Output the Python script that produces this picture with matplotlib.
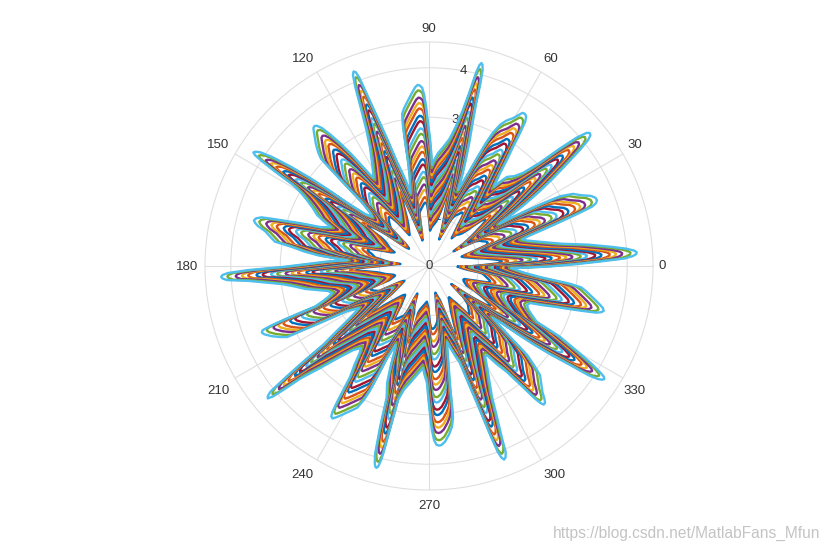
import numpy as np
import matplotlib
matplotlib.use("Agg")
import matplotlib.pyplot as plt

plt.rcParams['font.family'] = ['Liberation Sans', 'DejaVu Sans']

theta_deg = [
    -1.4, -0.8, -0.2, 0.7, 1.5, 2.2, 2.8, 3.3, 3.8, 4.3, 5.0, 6.0, 7.6, 9.5, 12.0, 14.6, 16.0,
    16.9, 17.9, 18.7, 19.4, 20.0, 20.6, 21.4, 22.3, 23.4, 25.0, 26.6, 28.0, 28.8, 29.6, 30.3, 31.0,
    31.9, 32.8, 33.9, 35.2, 36.5, 37.6, 38.4, 39.0, 39.6, 40.2, 41.0, 41.9, 43.0, 44.7, 46.5, 48.8, 50.0, 50.7,
    51.6, 52.6, 53.7, 54.8, 55.6, 56.3, 57.0, 57.8, 58.6, 60.4, 62.0, 63.2, 64.4, 65.2, 66.0, 67.0, 68.1, 69.1,
    70.0, 71.0, 72.0, 73.0, 73.8, 74.3, 74.7, 75.1, 75.5, 75.9, 76.3, 76.9, 77.8, 79.2, 80.8, 83.0, 85.5, 87.5, 88.3,
    88.9, 89.6, 90.4, 91.0, 91.6, 92.2, 93.0, 93.6, 94.4, 95.4, 97.2, 99.0, 100.0, 100.5, 100.9, 101.3, 102.2, 104.3,
    105.3, 106.2, 107.1, 108.2, 109.2, 109.9, 110.3, 110.7, 111.2, 111.7, 112.4, 113.4, 114.6, 116.4, 118.5, 120.6, 122.2,
    122.9, 123.7, 124.8, 125.9, 126.9, 127.8, 128.6, 129.3, 130.0, 130.7, 131.6, 132.8, 134.3, 135.2, 135.6, 136.0, 136.4, 137.8, 139.2,
    141.0, 142.3, 142.9, 143.5, 144.3, 145.2, 146.0, 146.6, 147.1, 147.5, 147.9, 148.4, 149.2, 150.2, 151.6, 153.5, 155.5, 157.0, 158.3,
    159.3, 160.3, 161.6, 162.5, 163.2, 163.8, 164.6, 165.4, 166.0, 166.8, 168.0, 169.5, 171.0, 172.1, 173.3, 174.5, 175.2, 176.0,
    176.9, 177.7, 178.5, 179.5, 180.4, 181.3, 182.0, 182.5, 183.0, 183.5, 184.0, 184.7, 185.8, 187.0, 188.6, 190.5, 193.9, 195.6,
    197.0, 198.5, 199.6, 200.0, 200.3, 200.7, 201.1, 201.7, 202.5, 204.0, 205.5, 206.6, 207.0, 207.4, 207.9, 208.8, 211.0,
    212.5, 214.0, 215.5, 216.7, 217.3, 217.9, 218.4, 218.9, 219.4, 219.9, 220.4, 221.2, 222.2, 223.2, 225.6, 228.0, 230.3,
    231.5, 233.0, 234.6, 235.4, 236.0, 236.5, 237.0, 237.7, 238.5, 239.8, 241.5, 243.1, 244.0, 244.6, 245.0, 245.5, 247.0,
    248.0, 249.0, 250.3, 251.3, 252.2, 253.1, 254.0, 254.6, 255.0, 255.4, 255.8, 256.2, 256.5, 257.0, 258.5, 260.8, 263.5, 266.6,
    267.5, 269.0, 270.0, 271.0, 271.7, 272.4, 273.2, 274.0, 275.2, 276.8, 278.1, 279.0, 279.4, 279.8, 280.5, 281.5, 282.5, 283.4,
    285.0, 286.5, 287.7, 288.6, 289.4, 289.9, 290.3, 290.7, 291.2, 291.8, 292.4, 293.0, 294.2, 295.7, 297.5, 299.9, 301.8,
    303.0, 304.6, 306.3, 307.8, 308.6, 309.1, 309.6, 310.3, 311.0, 312.0, 312.8, 314.0, 315.5, 316.7, 317.8, 318.4, 319.0, 319.9, 320.9,
    321.8, 322.5, 323.2, 324.0, 324.9, 325.6, 326.2, 326.7, 327.2, 327.7, 328.2, 328.9, 329.8, 331.6, 332.6, 334.5, 336.5, 338.3,
    339.9, 341.0, 342.2, 343.0, 343.7, 344.4, 345.0, 345.6, 346.4, 347.2, 348.5, 349.8, 351.0, 352.0, 352.8, 353.5, 354.3, 355.8, 357.5,
]
radius = [
    1.67, 2.05, 2.45, 2.95, 3.45, 3.95, 4.12, 4.19, 4.20, 4.15, 4.00, 3.70, 3.25, 2.72, 2.33, 2.04, 1.95,
    2.13, 2.50, 2.85, 3.20, 3.50, 3.60, 3.64, 3.63, 3.56, 3.38, 3.25, 3.00, 2.63, 2.25, 1.95, 1.65,
    1.95, 2.30, 2.65, 3.05, 3.45, 3.85, 4.10, 4.19, 4.21, 4.16, 3.95, 3.55, 3.05, 2.67, 2.50, 2.39, 2.20, 2.06,
    2.20, 2.36, 2.65, 2.94, 3.25, 3.50, 3.60, 3.63, 3.62, 3.43, 3.32, 3.20, 2.98, 2.72, 2.40, 2.05, 1.80, 1.64,
    2.00, 2.30, 2.65, 3.00, 3.40, 3.85, 4.10, 4.20, 4.23, 4.18, 4.03, 3.60, 3.20, 2.85, 2.60, 2.43, 2.28, 2.12, 2.04,
    2.30, 2.60, 2.88, 3.20, 3.45, 3.60, 3.65, 3.66, 3.62, 3.53, 3.37, 3.22, 3.12, 2.90, 2.55, 2.18, 1.85, 1.52,
    1.80, 2.00, 2.20, 2.70, 3.20, 3.70, 4.05, 4.18, 4.21, 4.15, 3.90, 3.45, 3.05, 2.68, 2.42, 2.22, 2.10,
    2.20, 2.40, 2.75, 3.06, 3.32, 3.52, 3.62, 3.65, 3.63, 3.56, 3.47, 3.36, 3.20, 3.07, 2.61, 2.25, 1.90, 1.61, 1.52,
    1.68, 2.08, 2.56, 2.98, 3.43, 3.85, 4.10, 4.19, 4.22, 4.16, 3.98, 3.69, 3.19, 2.98, 2.80, 2.62, 2.48, 2.30, 2.13,
    2.22, 2.33, 2.74, 3.02, 3.28, 3.52, 3.62, 3.65, 3.62, 3.55, 3.38, 3.26, 3.15, 2.79, 2.55, 2.25, 1.95, 1.65,
    1.90, 2.10, 2.30, 2.62, 2.96, 3.65, 4.06, 4.17, 4.20, 4.17, 4.08, 3.66, 3.30, 2.99, 2.75, 2.54, 2.10, 2.03,
    2.12, 2.28, 2.44, 2.80, 3.10, 3.42, 3.60, 3.63, 3.60, 3.48, 3.33, 3.20, 2.83, 2.60, 2.30, 1.90, 1.65,
    1.80, 2.02, 2.35, 2.67, 3.20, 3.70, 4.08, 4.18, 4.21, 4.10, 3.85, 3.44, 3.20, 3.00, 2.57, 2.28, 2.15,
    2.25, 2.50, 2.75, 3.05, 3.33, 3.53, 3.62, 3.64, 3.58, 3.47, 3.33, 3.21, 3.02, 2.80, 2.47, 2.05, 1.72,
    1.85, 2.15, 2.51, 2.65, 2.80, 3.39, 3.95, 4.12, 4.19, 4.21, 4.17, 4.00, 3.47, 2.77, 2.55, 2.39, 2.22, 2.06,
    2.18, 2.36, 2.80, 3.31, 3.52, 3.61, 3.63, 3.62, 3.56, 3.42, 3.28, 3.10, 2.85, 2.54, 2.25, 1.95, 1.72, 1.58,
    1.75, 1.92, 2.05, 2.50, 3.02, 3.60, 4.00, 4.13, 4.19, 4.16, 4.06, 3.76, 3.35, 2.93, 2.65, 2.35, 2.15,
    2.14, 2.40, 2.65, 3.09, 3.42, 3.56, 3.63, 3.62, 3.55, 3.42, 3.35, 3.25, 3.14, 2.90, 2.67, 2.35, 2.10, 1.85, 1.65,
    1.85, 2.25, 2.65, 3.05, 3.45, 3.90, 4.10, 4.18, 4.21, 4.17, 4.05, 3.85, 3.55, 3.00, 2.45, 2.30, 2.18, 2.13,
    2.17, 2.43, 2.71, 2.98, 3.23, 3.50, 3.60, 3.64, 3.61, 3.54, 3.42, 3.30, 3.20, 3.10, 2.87, 2.55, 2.25, 1.95, 1.75,
]

# Size of each nested curve relative to the outermost one
scales = [0.35, 0.38, 0.42, 0.45, 0.49, 0.52, 0.56, 0.59, 0.63, 0.66,
          0.69, 0.73, 0.76, 0.80, 0.83, 0.87, 0.90, 0.93, 0.97, 1.00]

# MATLAB default line colours
colors = ['#0072BD', '#D95319', '#EDB120', '#7E2F8E', '#77AC30', '#4DBEEE', '#A2142F']

r_ticks = [0, 1, 2, 3, 4]
theta_ticks = list(range(0, 360, 30))

fig = plt.figure(figsize=(8.29, 5.51), dpi=100)
ax = fig.add_axes([205 / 829, 61 / 551, 448 / 829, 448 / 551], projection='polar')

t = np.radians(theta_deg + theta_deg[:1])
r = np.array(radius + radius[:1])
for i, s in enumerate(scales):
    ax.plot(t, s * r, color=colors[i % 7], lw=1.7, solid_joinstyle='round')

ax.set_rlim(0, 4.52)
ax.set_axisbelow(True)
ax.set_thetagrids(theta_ticks, [''] * len(theta_ticks))
ax.set_rgrids(r_ticks[1:], [''] * 4)
ax.grid(color='#DFDFDF', lw=0.8)
ax.spines['polar'].set_color('#DFDFDF')
ax.spines['polar'].set_linewidth(0.8)

# angle labels sit a slightly different distance off the ring at each angle
label_offsets = [(9, 0), (12, 9), (10, 13), (0, 13), (-14, 13), (-17, 9),
                 (-18, -1), (-17, -13), (-15, -15), (0, -16), (14, -15), (12, -13)]
for a, off in zip(theta_ticks, label_offsets):
    ax.annotate(str(a), xy=(np.radians(a), 4.52), xytext=off, textcoords='offset pixels',
                color='#333333', fontsize=9.5, ha='center', va='center', annotation_clip=False)

for v in r_ticks:
    ax.text(np.radians(80), v, str(v), color='#333333', fontsize=9.5,
            ha='center', va='center', zorder=0.8)

fig.text(0.989, 0.032, 'https://blog.csdn.net/MatlabFans_Mfun', color='#C4C4C4',
         fontsize=11.2, ha='right', va='center')

fig.savefig('out.png', dpi=100)
